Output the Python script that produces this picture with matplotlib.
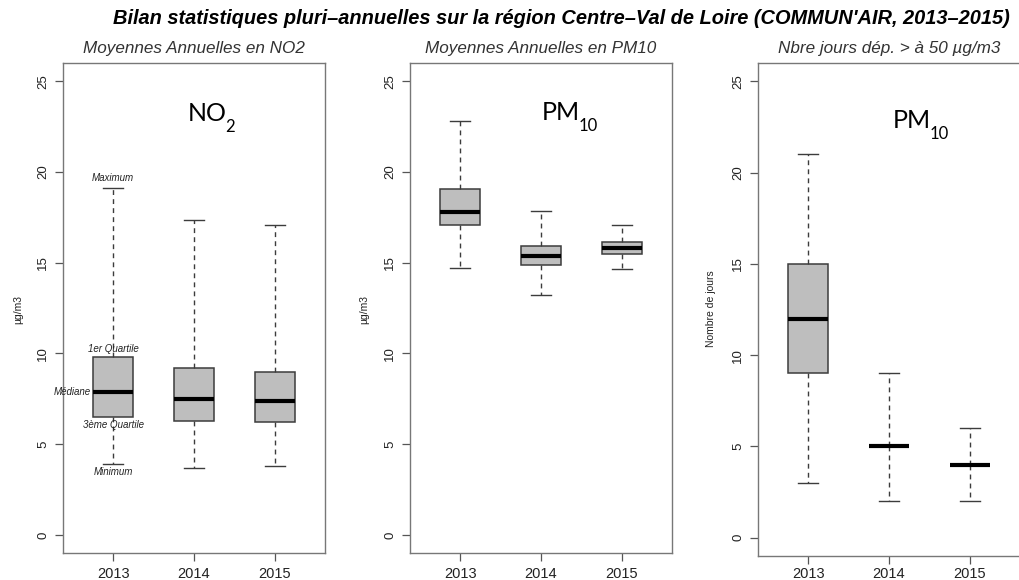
import matplotlib
matplotlib.use("Agg")
import matplotlib.pyplot as plt

plt.rcParams['font.family'] = ['Liberation Sans', 'DejaVu Sans']

# donnees
annees = ['2013', '2014', '2015']

# NO2 moyennes annuelles (ug/m3)
no2_min = [3.9, 3.7, 3.8]
no2_q1 = [6.5, 6.3, 6.2]
no2_med = [7.85, 7.5, 7.35]
no2_q3 = [9.8, 9.2, 8.95]
no2_max = [19.1, 17.35, 17.05]

# PM10 moyennes annuelles (ug/m3)
pm_min = [14.7, 13.2, 14.65]
pm_q1 = [17.1, 14.85, 15.5]
pm_med = [17.8, 15.35, 15.8]
pm_q3 = [19.05, 15.9, 16.15]
pm_max = [22.8, 17.85, 17.1]

# PM10 nombre de jours > 50 ug/m3
nj_min = [3, 2, 2]
nj_q1 = [9, 5, 4]
nj_med = [12, 5, 4]
nj_q3 = [15, 5, 4]
nj_max = [21, 9, 6]

titre = "Bilan statistiques pluri\u2013annuelles sur la région Centre\u2013Val de Loire (COMMUN'AIR, 2013\u20132015)"
sous_titres = ["Moyennes Annuelles en NO2", "Moyennes Annuelles en PM10", "Nbre jours dép. > à 50 µg/m3"]
ylabels = ["µg/m3", "µg/m3", "Nombre de jours"]
polluants = ["NO", "PM", "PM"]
indices = ["2", "10", "10"]

W, H = 1020, 580
fig = plt.figure(figsize=(10.2, 5.8), dpi=100)


def rect(l, r, t, b):
    return [l / W, 1 - b / H, (r - l) / W, (b - t) / H]


def stats(mn, q1, med, q3, mx):
    res = []
    for i in range(len(annees)):
        res.append(dict(whislo=mn[i], q1=q1[i], med=med[i], q3=q3[i], whishi=mx[i], fliers=[]))
    return res


donnees = [stats(no2_min, no2_q1, no2_med, no2_q3, no2_max),
           stats(pm_min, pm_q1, pm_med, pm_q3, pm_max),
           stats(nj_min, nj_q1, nj_med, nj_q3, nj_max)]
rects = [rect(63, 325, 63, 553), rect(410, 672, 63, 553), rect(758, 1020, 63, 556)]
ylab_x = [18, 364, 711]
big_pos = [(188, 121), (542, 120), (893, 128)]

bord = '#3c3c3c'
axes = []
gros = []
for k in range(3):
    ax = fig.add_axes(rects[k])
    ax.bxp(donnees[k], positions=[1, 2, 3], widths=0.5, capwidths=0.25,
           patch_artist=True, showfliers=False,
           boxprops=dict(facecolor='#bebebe', edgecolor=bord, linewidth=1.1),
           whiskerprops=dict(color=bord, linewidth=1.0, linestyle=(0, (3.5, 3))),
           capprops=dict(color=bord, linewidth=1.0),
           medianprops=dict(color='black', linewidth=3.0, solid_capstyle='butt'))
    ax.set_xlim(0.38, 3.62)
    ax.set_ylim(-1, 26)
    ax.set_xticks([1, 2, 3])
    ax.set_xticklabels(annees, fontsize=10.5)
    ax.set_yticks([0, 5, 10, 15, 20, 25])
    ax.set_yticklabels(['0', '5', '10', '15', '20', '25'], fontsize=9.5, rotation=90, va='center')
    ax.tick_params(axis='both', length=6, width=0.9, color='#555555', pad=4, labelcolor='#222222')
    for s in ax.spines.values():
        s.set_color('#777777')
        s.set_linewidth(1.0)
    if k == 2:
        ax.spines['right'].set_visible(False)
        ax.tick_params(axis='x', pad=2)
    ax.set_title(sous_titres[k], fontsize=12.3, style='italic', color='#333333', pad=7)
    fig.text(ylab_x[k] / W, 1 - 309 / H, ylabels[k], rotation=90, fontsize=7.5,
             ha='center', va='center', color='#222222')
    bx, by = big_pos[k]
    t = fig.text(bx / W, 1 - by / H, polluants[k], fontsize=18, family='Lato',
                 ha='left', va='baseline', color='black')
    gros.append((t, k))
    axes.append(ax)

# indices (2, 10) places juste apres le texte principal, plus bas
fig.canvas.draw()
r = fig.canvas.get_renderer()
for t, k in gros:
    bb = t.get_window_extent(renderer=r)
    bx, by = big_pos[k]
    fig.text((bb.x1 - 2) / W, 1 - (by + 11) / H, indices[k], fontsize=12, family='Lato',
             ha='left', va='baseline', color='black')

# legendes de la boite 2013 (NO2)
ax = axes[0]
ann = dict(fontsize=7, style='italic', color='#222222')
ax.text(1, no2_max[0] + 0.3, "Maximum", ha='center', va='bottom', **ann)
ax.text(1, no2_q3[0] + 0.15, "1er Quartile", ha='center', va='bottom', **ann)
ax.text(0.73, no2_med[0], "Médiane", ha='right', va='center', **ann)
ax.text(1, no2_q1[0] - 0.15, "3ème Quartile", ha='center', va='top', **ann)
ax.text(1, no2_min[0] - 0.15, "Minimum", ha='center', va='top', **ann)

fig.text(561 / W, 1 - 18 / H, titre, fontsize=14.4, weight='bold', style='italic',
         ha='center', va='center', color='black')

fig.savefig('out.png', dpi=100)
